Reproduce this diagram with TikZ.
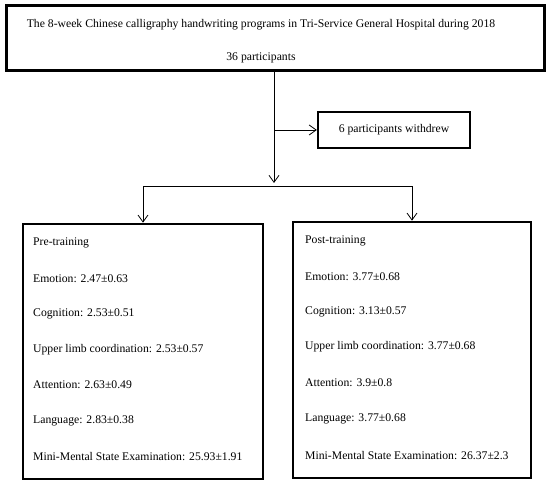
\documentclass[tikz,border=0pt]{standalone}
\usepackage{fontspec}
\setmainfont{Liberation Serif}
\usetikzlibrary{arrows.meta}
\begin{document}
\begin{tikzpicture}[x=1pt,y=1pt,
  box/.style={draw, line width=2.6pt, inner sep=0pt},
  txt/.style={anchor=west, inner sep=0pt, font=\fontsize{11.7}{14}\selectfont},
  ctxt/.style={inner sep=0pt, font=\fontsize{11.7}{14}\selectfont},
  conn/.style={line width=0.8pt, -{Straight Barb[length=7pt,width=10pt,line width=0.8pt]}}]
\useasboundingbox (0,0) rectangle (550,-486);
\node[box, minimum width=538, minimum height=65] (top) at (275.5,-38) {};
\node[ctxt] (t1) at (261,-25) {The 8-week Chinese calligraphy handwriting programs in Tri-Service General Hospital during 2018};
\node[ctxt] (t2) at (261,-58) {36 participants};
\node[box, line width=2.3pt, minimum width=152, minimum height=36, font=\fontsize{11.7}{14}\selectfont] (wd) at (394,-130) {6 participants withdrew};
\node[box, minimum width=240, minimum height=255] (pre) at (143,-351.5) {};
\node[box, minimum width=238, minimum height=256] (post) at (412,-350) {};
\coordinate (a) at (274,-71);
\coordinate (b) at (274,-183);
\coordinate (s) at (274,-130);
\coordinate (j) at (274,-186);
\draw[conn] (a) -- (b);
\draw[conn, shorten <=1pt] (s) -- (wd.west);
\draw[conn] (j) -| (pre.north);
\draw[conn] (j) -| (post.north);
\node[txt] (p0) at (33,-243) {Pre-training};
\node[txt] (p1) at (33,-279) {Emotion: 2.47±0.63};
\node[txt] (p2) at (33,-314) {Cognition: 2.53±0.51};
\node[txt] (p3) at (33,-350) {Upper limb coordination: 2.53±0.57};
\node[txt] (p4) at (33,-385) {Attention: 2.63±0.49};
\node[txt] (p5) at (33,-421) {Language: 2.83±0.38};
\node[txt] (p6) at (33,-457) {Mini-Mental State Examination: 25.93±1.91};
\node[txt] (q0) at (305,-241) {Post-training};
\node[txt] (q1) at (305,-277) {Emotion: 3.77±0.68};
\node[txt] (q2) at (305,-312) {Cognition: 3.13±0.57};
\node[txt] (q3) at (305,-347) {Upper limb coordination: 3.77±0.68};
\node[txt] (q4) at (305,-383) {Attention: 3.9±0.8};
\node[txt] (q5) at (305,-419) {Language: 3.77±0.68};
\node[txt] (q6) at (305,-456) {Mini-Mental State Examination: 26.37±2.3};
\end{tikzpicture}
\end{document}
